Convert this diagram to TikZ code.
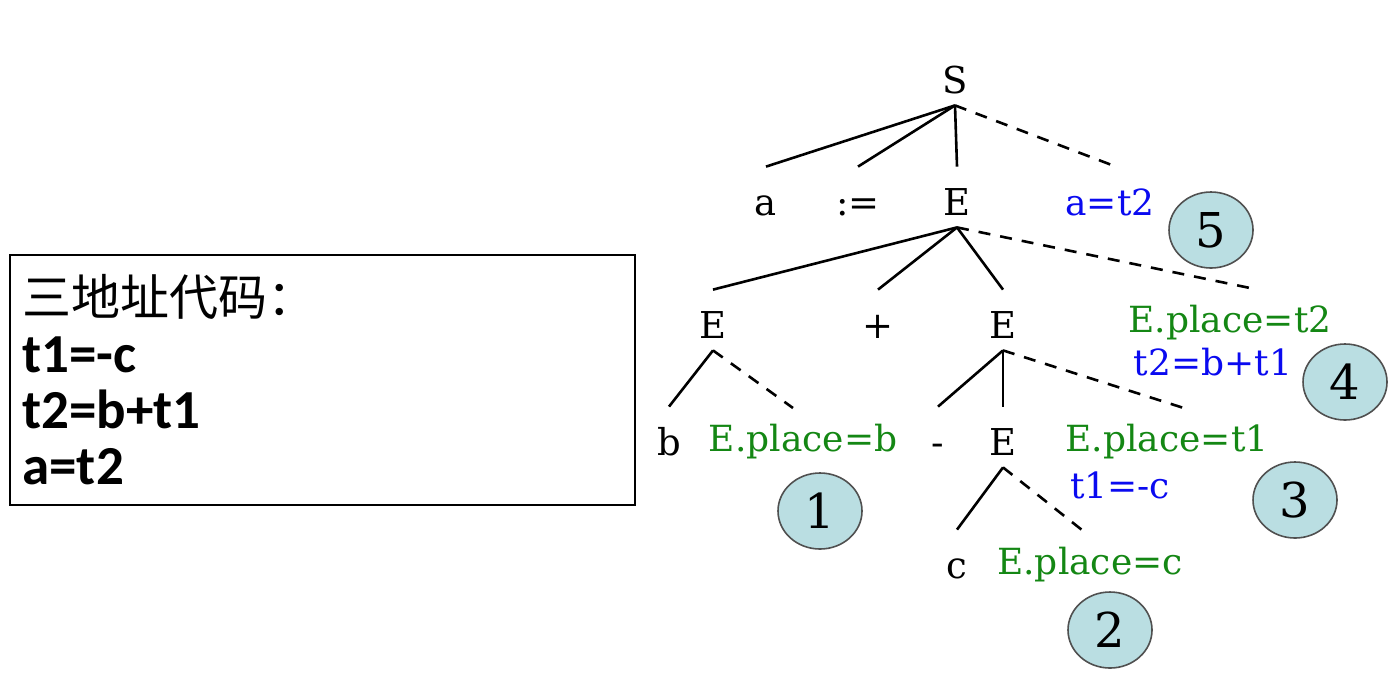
\documentclass[tikz,border=0pt]{standalone}
\usepackage{fontspec}
\setmainfont{DejaVu Serif}
\newfontfamily\boxfont{Carlito}
\newfontfamily\cjk{Noto Sans CJK SC}
\usetikzlibrary{shapes.geometric}
\definecolor{annGreen}{RGB}{20,135,20}
\definecolor{annBlue}{RGB}{10,10,240}
\definecolor{stepFill}{RGB}{186,222,226}
\definecolor{stepEdge}{RGB}{80,80,80}
\tikzset{
  tn/.style={inner sep=0pt, anchor=base, text height=24pt, text depth=6pt, font=\fontsize{18.5}{22}\selectfont},
  ann/.style={inner sep=0pt, anchor=center, font=\fontsize{18}{22}\selectfont},
  green/.style={ann, text=annGreen},
  blue/.style={ann, text=annBlue},
  edge/.style={line width=1.3pt},
  dedge/.style={line width=1.3pt, dash pattern=on 6pt off 5pt},
  stepnum/.style={ellipse, draw=stepEdge, line width=0.8pt, fill=stepFill, minimum width=42pt, minimum height=38pt, inner sep=0pt, font=\fontsize{24}{28}\selectfont},
  boxline/.style={inner sep=0pt, anchor=west, font=\boxfont\bfseries\fontsize{27.5}{30}\selectfont}
}
\begin{document}
\begin{tikzpicture}[x=0.5pt,y=-0.5pt]
\useasboundingbox (0,0) rectangle (1400,687);
% code box
\draw[line width=1pt] (10,255) rectangle (635,505);
\node[boxline, font=\cjk\fontsize{24.5}{28}\selectfont] (l0) at (22,297) {三地址代码：};
\node[boxline] (l1) at (22,355) {t1=-c};
\node[boxline] (l2) at (22,409) {t2=b+t1};
\node[boxline] (l3) at (22,467) {a=t2};
% tree nodes (baseline = centre + 13)
\node[tn] (S) at (955,93) {S};
\node[tn] (a) at (766,215) {a};
\node[tn] (as) at (858,215) {:=};
\node[tn] (E1) at (957,215) {E};
\node[tn] (E2) at (713,338) {E};
\node[tn] (plus) at (878,338) {+};
\node[tn] (E3) at (1003,338) {E};
\node[tn] (b) at (669,455) {b};
\node[tn] (minus) at (938,455) {-};
\node[tn] (E4) at (1003,455) {E};
\node[tn] (c) at (957,578) {c};
% annotations
\node[blue] (r5) at (1110,202) {a=t2};
\node[green] (p4) at (1230,323) {E.place=t2};
\node[blue] (r4) at (1213,362) {t2=b+t1};
\node[green] (p1) at (803,442) {E.place=b};
\node[green] (p3) at (1167,442) {E.place=t1};
\node[blue] (r3) at (1120,485) {t1=-c};
\node[green] (p2) at (1090,565) {E.place=c};
% step numbers
\node[stepnum] (n5) at (1211,230) {5};
\node[stepnum] (n4) at (1345,382) {4};
\node[stepnum] (n3) at (1295,500) {3};
\node[stepnum] (n1) at (820,511) {1};
\node[stepnum] (n2) at (1110,630) {2};
% dashed ends
\coordinate (d1) at (1117,167);
\coordinate (d2) at (1250,288);
\coordinate (d3) at (793,408);
\coordinate (d4) at (1190,410);
\coordinate (d5) at (1082,530);
% edges
\draw[edge] (S.south) -- (a.north);
\draw[edge] (S.south) -- (as.north);
\draw[edge] (S.south) -- (E1.north);
\draw[dedge] (S.south) -- (d1);
\draw[edge] (E1.south) -- (E2.north);
\draw[edge] (E1.south) -- (plus.north);
\draw[edge] (E1.south) -- (E3.north);
\draw[dedge] (E1.south) -- (d2);
\draw[edge] (E2.south) -- (b.north);
\draw[dedge] (E2.south) -- (d3);
\draw[edge] (E3.south) -- (minus.north);
\draw[edge] (E3.south) -- (E4.north);
\draw[dedge] (E3.south) -- (d4);
\draw[edge] (E4.south) -- (c.north);
\draw[dedge] (E4.south) -- (d5);
\end{tikzpicture}
\end{document}
